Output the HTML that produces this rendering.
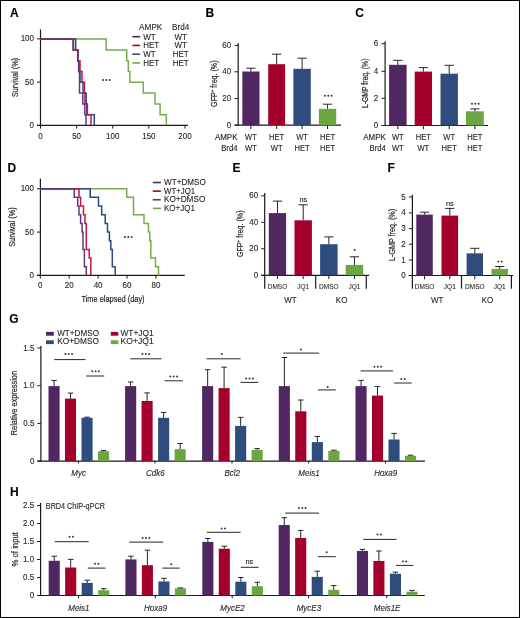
<!DOCTYPE html><html><head><meta charset="utf-8"><style>html,body{margin:0;padding:0;background:#fff;}svg{display:block;font-family:"Liberation Sans",sans-serif;will-change:transform;}text{stroke:#231f20;stroke-width:0.12px;}text.lt{stroke-width:0.08px;}text.vl{stroke-width:0.2px;}</style></head><body>
<svg width="520" height="618" viewBox="0 0 520 618">
<rect x="0" y="0" width="520" height="618" fill="#000"/>
<rect x="1" y="1" width="518" height="616" fill="#fff"/>
<text transform="translate(10.0,16.8) scale(1.0000,1)" font-size="12.00" font-weight="bold" fill="#000">A</text>
<text transform="translate(205.6,16.9) scale(1.0000,1)" font-size="12.00" font-weight="bold" fill="#000">B</text>
<text transform="translate(355.2,16.9) scale(1.0000,1)" font-size="12.00" font-weight="bold" fill="#000">C</text>
<text transform="translate(7.4,172.3) scale(1.0000,1)" font-size="12.00" font-weight="bold" fill="#000">D</text>
<text transform="translate(232.4,172.3) scale(1.0000,1)" font-size="12.00" font-weight="bold" fill="#000">E</text>
<text transform="translate(387.6,172.3) scale(1.0000,1)" font-size="12.00" font-weight="bold" fill="#000">F</text>
<text transform="translate(9.3,323.3) scale(1.0000,1)" font-size="12.00" font-weight="bold" fill="#000">G</text>
<text transform="translate(9.9,495.5) scale(1.0000,1)" font-size="12.00" font-weight="bold" fill="#000">H</text>
<line x1="40.5" y1="29.5" x2="40.5" y2="125.8" stroke="#1a1a1a" stroke-width="1.2"/>
<line x1="37.0" y1="125.3" x2="188.0" y2="125.3" stroke="#1a1a1a" stroke-width="1.2"/>
<line x1="37.0" y1="38.9" x2="40.5" y2="38.9" stroke="#1a1a1a" stroke-width="1.0"/>
<text transform="translate(34.0,41.40) scale(0.8333,1)" font-size="9.60" text-anchor="end" fill="#231f20">100</text>
<line x1="37.0" y1="82.1" x2="40.5" y2="82.1" stroke="#1a1a1a" stroke-width="1.0"/>
<text transform="translate(34.0,84.60) scale(0.8333,1)" font-size="9.60" text-anchor="end" fill="#231f20">50</text>
<line x1="37.0" y1="125.3" x2="40.5" y2="125.3" stroke="#1a1a1a" stroke-width="1.0"/>
<text transform="translate(34.0,127.80) scale(0.8333,1)" font-size="9.60" text-anchor="end" fill="#231f20">0</text>
<line x1="40.50" y1="125.3" x2="40.50" y2="128.6" stroke="#1a1a1a" stroke-width="1.0"/>
<text transform="translate(40.50,138.8) scale(0.8333,1)" font-size="9.60" text-anchor="middle" fill="#231f20">0</text>
<line x1="76.62" y1="125.3" x2="76.62" y2="128.6" stroke="#1a1a1a" stroke-width="1.0"/>
<text transform="translate(76.62,138.8) scale(0.8333,1)" font-size="9.60" text-anchor="middle" fill="#231f20">50</text>
<line x1="112.75" y1="125.3" x2="112.75" y2="128.6" stroke="#1a1a1a" stroke-width="1.0"/>
<text transform="translate(112.75,138.8) scale(0.8333,1)" font-size="9.60" text-anchor="middle" fill="#231f20">100</text>
<line x1="148.88" y1="125.3" x2="148.88" y2="128.6" stroke="#1a1a1a" stroke-width="1.0"/>
<text transform="translate(148.88,138.8) scale(0.8333,1)" font-size="9.60" text-anchor="middle" fill="#231f20">150</text>
<line x1="185.00" y1="125.3" x2="185.00" y2="128.6" stroke="#1a1a1a" stroke-width="1.0"/>
<text transform="translate(185.00,138.8) scale(0.8333,1)" font-size="9.60" text-anchor="middle" fill="#231f20">200</text>
<text transform="translate(18.2,77.5) rotate(-90) scale(0.8414,1)" x="0" y="0" font-size="8.6" text-anchor="middle" fill="#231f20" class="vl">Survival (%)</text>
<path d="M40.50,39.10 L106.10,39.10 L106.10,49.90 L126.70,49.90 L126.70,60.70 L128.30,60.70 L128.30,71.50 L129.90,71.50 L129.90,82.30 L143.30,82.30 L143.30,93.10 L155.00,93.10 L155.00,103.90 L160.10,103.90 L160.10,114.70 L166.30,114.70 L166.30,125.30" fill="none" stroke="#72ae4c" stroke-width="1.5" stroke-linejoin="miter"/>
<path d="M40.50,39.10 L75.70,39.10 L75.70,49.90 L77.70,49.90 L77.70,60.70 L79.00,60.70 L79.00,71.50 L80.00,71.50 L80.00,82.30 L83.00,82.30 L83.00,93.10 L86.20,93.10 L86.20,103.90 L86.80,103.90 L86.80,114.70 L94.30,114.70 L94.30,125.30" fill="none" stroke="#2a4a85" stroke-width="1.5" stroke-linejoin="miter"/>
<path d="M40.50,39.10 L73.50,39.10 L73.50,49.90 L78.00,49.90 L78.00,60.70 L80.00,60.70 L80.00,71.50 L82.00,71.50 L82.00,82.30 L84.40,82.30 L84.40,93.10 L85.00,93.10 L85.00,103.90 L87.40,103.90 L87.40,114.70 L91.00,114.70 L91.00,125.30" fill="none" stroke="#c0163f" stroke-width="1.5" stroke-linejoin="miter"/>
<path d="M40.50,39.10 L73.00,39.10 L73.00,49.90 L77.70,49.90 L77.70,60.70 L78.60,60.70 L78.60,71.50 L79.50,71.50 L79.50,93.10 L82.80,93.10 L82.80,103.90 L84.80,103.90 L84.80,114.70 L86.00,114.70 L86.00,125.30" fill="none" stroke="#5e3a7c" stroke-width="1.5" stroke-linejoin="miter"/>
<circle cx="102.95" cy="80.10" r="1.0" fill="#383838"/>
<circle cx="106.30" cy="80.10" r="1.0" fill="#383838"/>
<circle cx="109.65" cy="80.10" r="1.0" fill="#383838"/>
<text transform="translate(150.7,29.8) scale(0.8564,1)" font-size="9.60" text-anchor="middle" fill="#231f20">AMPK</text>
<text transform="translate(180.7,29.8) scale(0.8482,1)" font-size="9.60" text-anchor="middle" fill="#231f20">Brd4</text>
<line x1="132.4" y1="36.7" x2="140.1" y2="36.7" stroke="#512761" stroke-width="1.6"/>
<text transform="translate(143.2,39.50) scale(0.8333,1)" font-size="9.60" fill="#231f20">WT</text>
<text transform="translate(180.7,39.50) scale(0.8333,1)" font-size="9.60" text-anchor="middle" fill="#231f20">WT</text>
<line x1="132.4" y1="45.45" x2="140.1" y2="45.45" stroke="#a3002b" stroke-width="1.6"/>
<text transform="translate(143.2,48.25) scale(0.8333,1)" font-size="9.60" fill="#231f20">HET</text>
<text transform="translate(180.7,48.25) scale(0.8333,1)" font-size="9.60" text-anchor="middle" fill="#231f20">WT</text>
<line x1="132.4" y1="54.2" x2="140.1" y2="54.2" stroke="#2e4c7c" stroke-width="1.6"/>
<text transform="translate(143.2,57.00) scale(0.8333,1)" font-size="9.60" fill="#231f20">WT</text>
<text transform="translate(180.7,57.00) scale(0.8333,1)" font-size="9.60" text-anchor="middle" fill="#231f20">HET</text>
<line x1="132.4" y1="62.95" x2="140.1" y2="62.95" stroke="#6ca643" stroke-width="1.6"/>
<text transform="translate(143.2,65.75) scale(0.8333,1)" font-size="9.60" fill="#231f20">HET</text>
<text transform="translate(180.7,65.75) scale(0.8333,1)" font-size="9.60" text-anchor="middle" fill="#231f20">HET</text>
<line x1="238.2" y1="43.0" x2="238.2" y2="125.7" stroke="#1a1a1a" stroke-width="1.2"/>
<line x1="234.6" y1="125.2" x2="341.0" y2="125.2" stroke="#1a1a1a" stroke-width="1.2"/>
<line x1="234.6" y1="45.4" x2="238.2" y2="45.4" stroke="#1a1a1a" stroke-width="1.0"/>
<text transform="translate(231.2,47.90) scale(0.8333,1)" font-size="9.60" text-anchor="end" fill="#231f20">60</text>
<line x1="234.6" y1="71.8" x2="238.2" y2="71.8" stroke="#1a1a1a" stroke-width="1.0"/>
<text transform="translate(231.2,74.30) scale(0.8333,1)" font-size="9.60" text-anchor="end" fill="#231f20">40</text>
<line x1="234.6" y1="98.6" x2="238.2" y2="98.6" stroke="#1a1a1a" stroke-width="1.0"/>
<text transform="translate(231.2,101.10) scale(0.8333,1)" font-size="9.60" text-anchor="end" fill="#231f20">20</text>
<line x1="234.6" y1="125.2" x2="238.2" y2="125.2" stroke="#1a1a1a" stroke-width="1.0"/>
<text transform="translate(231.2,127.70) scale(0.8333,1)" font-size="9.60" text-anchor="end" fill="#231f20">0</text>
<rect x="242.30" y="71.50" width="17.20" height="53.70" fill="#512761"/>
<line x1="250.9" y1="68.2" x2="250.9" y2="71.5" stroke="#262626" stroke-width="1.0"/>
<line x1="246.3" y1="68.2" x2="255.5" y2="68.2" stroke="#262626" stroke-width="1.0"/>
<line x1="250.90" y1="125.2" x2="250.90" y2="129.0" stroke="#1a1a1a" stroke-width="1.0"/>
<rect x="268.20" y="64.20" width="16.90" height="61.00" fill="#a3002b"/>
<line x1="276.65" y1="54.2" x2="276.65" y2="64.2" stroke="#262626" stroke-width="1.0"/>
<line x1="272.04999999999995" y1="54.2" x2="281.25" y2="54.2" stroke="#262626" stroke-width="1.0"/>
<line x1="276.65" y1="125.2" x2="276.65" y2="129.0" stroke="#1a1a1a" stroke-width="1.0"/>
<rect x="293.40" y="68.80" width="17.40" height="56.40" fill="#2e4c7c"/>
<line x1="302.1" y1="58.2" x2="302.1" y2="68.8" stroke="#262626" stroke-width="1.0"/>
<line x1="297.5" y1="58.2" x2="306.70000000000005" y2="58.2" stroke="#262626" stroke-width="1.0"/>
<line x1="302.10" y1="125.2" x2="302.10" y2="129.0" stroke="#1a1a1a" stroke-width="1.0"/>
<rect x="318.90" y="108.80" width="17.30" height="16.40" fill="#6ca643"/>
<line x1="327.54999999999995" y1="104.2" x2="327.54999999999995" y2="108.8" stroke="#262626" stroke-width="1.0"/>
<line x1="322.94999999999993" y1="104.2" x2="332.15" y2="104.2" stroke="#262626" stroke-width="1.0"/>
<line x1="327.55" y1="125.2" x2="327.55" y2="129.0" stroke="#1a1a1a" stroke-width="1.0"/>
<text transform="translate(216.8,83.7) rotate(-90) scale(0.8249,1)" x="0" y="0" font-size="8.6" text-anchor="middle" fill="#231f20" class="vl">GFP<tspan font-size="5.5" dy="-3">+</tspan><tspan dy="3"> freq. (%)</tspan></text>
<circle cx="324.95" cy="95.80" r="1.0" fill="#383838"/>
<circle cx="328.30" cy="95.80" r="1.0" fill="#383838"/>
<circle cx="331.65" cy="95.80" r="1.0" fill="#383838"/>
<text transform="translate(237.5,139.5) scale(0.9294,1)" font-size="8.58" text-anchor="end" fill="#231f20">AMPK</text>
<text transform="translate(237.5,151.2) scale(0.8994,1)" font-size="8.58" text-anchor="end" fill="#231f20">Brd4</text>
<text transform="translate(250.90,139.5) scale(0.9091,1)" font-size="8.36" text-anchor="middle" fill="#231f20">WT</text>
<text transform="translate(250.90,151.2) scale(0.9091,1)" font-size="8.36" text-anchor="middle" fill="#231f20">WT</text>
<text transform="translate(276.65,139.5) scale(0.9091,1)" font-size="8.36" text-anchor="middle" fill="#231f20">HET</text>
<text transform="translate(276.65,151.2) scale(0.9091,1)" font-size="8.36" text-anchor="middle" fill="#231f20">WT</text>
<text transform="translate(302.10,139.5) scale(0.9091,1)" font-size="8.36" text-anchor="middle" fill="#231f20">WT</text>
<text transform="translate(302.10,151.2) scale(0.9091,1)" font-size="8.36" text-anchor="middle" fill="#231f20">HET</text>
<text transform="translate(327.55,139.5) scale(0.9091,1)" font-size="8.36" text-anchor="middle" fill="#231f20">HET</text>
<text transform="translate(327.55,151.2) scale(0.9091,1)" font-size="8.36" text-anchor="middle" fill="#231f20">HET</text>
<line x1="385.1" y1="41.3" x2="385.1" y2="126.0" stroke="#1a1a1a" stroke-width="1.2"/>
<line x1="381.5" y1="125.5" x2="488.0" y2="125.5" stroke="#1a1a1a" stroke-width="1.2"/>
<line x1="381.5" y1="43.8" x2="385.1" y2="43.8" stroke="#1a1a1a" stroke-width="1.0"/>
<text transform="translate(378.2,46.30) scale(0.8333,1)" font-size="9.60" text-anchor="end" fill="#231f20">6</text>
<line x1="381.5" y1="71.3" x2="385.1" y2="71.3" stroke="#1a1a1a" stroke-width="1.0"/>
<text transform="translate(378.2,73.80) scale(0.8333,1)" font-size="9.60" text-anchor="end" fill="#231f20">4</text>
<line x1="381.5" y1="98.3" x2="385.1" y2="98.3" stroke="#1a1a1a" stroke-width="1.0"/>
<text transform="translate(378.2,100.80) scale(0.8333,1)" font-size="9.60" text-anchor="end" fill="#231f20">2</text>
<line x1="381.5" y1="125.5" x2="385.1" y2="125.5" stroke="#1a1a1a" stroke-width="1.0"/>
<text transform="translate(378.2,128.00) scale(0.8333,1)" font-size="9.60" text-anchor="end" fill="#231f20">0</text>
<rect x="389.10" y="64.80" width="17.50" height="60.70" fill="#512761"/>
<line x1="397.85" y1="60.3" x2="397.85" y2="64.8" stroke="#262626" stroke-width="1.0"/>
<line x1="393.25" y1="60.3" x2="402.45000000000005" y2="60.3" stroke="#262626" stroke-width="1.0"/>
<line x1="397.85" y1="125.5" x2="397.85" y2="129.3" stroke="#1a1a1a" stroke-width="1.0"/>
<rect x="414.70" y="71.60" width="17.30" height="53.90" fill="#a3002b"/>
<line x1="423.35" y1="67.6" x2="423.35" y2="71.6" stroke="#262626" stroke-width="1.0"/>
<line x1="418.75" y1="67.6" x2="427.95000000000005" y2="67.6" stroke="#262626" stroke-width="1.0"/>
<line x1="423.35" y1="125.5" x2="423.35" y2="129.3" stroke="#1a1a1a" stroke-width="1.0"/>
<rect x="440.50" y="73.70" width="17.40" height="51.80" fill="#2e4c7c"/>
<line x1="449.2" y1="65.3" x2="449.2" y2="73.7" stroke="#262626" stroke-width="1.0"/>
<line x1="444.59999999999997" y1="65.3" x2="453.8" y2="65.3" stroke="#262626" stroke-width="1.0"/>
<line x1="449.20" y1="125.5" x2="449.20" y2="129.3" stroke="#1a1a1a" stroke-width="1.0"/>
<rect x="466.00" y="111.30" width="17.80" height="14.20" fill="#6ca643"/>
<line x1="474.9" y1="108.9" x2="474.9" y2="111.3" stroke="#262626" stroke-width="1.0"/>
<line x1="470.29999999999995" y1="108.9" x2="479.5" y2="108.9" stroke="#262626" stroke-width="1.0"/>
<line x1="474.90" y1="125.5" x2="474.90" y2="129.3" stroke="#1a1a1a" stroke-width="1.0"/>
<text transform="translate(368.3,83.3) rotate(-90) scale(0.7927,1)" x="0" y="0" font-size="8.6" text-anchor="middle" fill="#231f20" class="vl">L-GMP freq. (%)</text>
<circle cx="471.95" cy="103.70" r="1.0" fill="#383838"/>
<circle cx="475.30" cy="103.70" r="1.0" fill="#383838"/>
<circle cx="478.65" cy="103.70" r="1.0" fill="#383838"/>
<text transform="translate(385.8,139.5) scale(0.9294,1)" font-size="8.58" text-anchor="end" fill="#231f20">AMPK</text>
<text transform="translate(385.8,150.9) scale(0.8994,1)" font-size="8.58" text-anchor="end" fill="#231f20">Brd4</text>
<text transform="translate(397.85,139.5) scale(0.9091,1)" font-size="8.36" text-anchor="middle" fill="#231f20">WT</text>
<text transform="translate(397.85,150.9) scale(0.9091,1)" font-size="8.36" text-anchor="middle" fill="#231f20">WT</text>
<text transform="translate(423.35,139.5) scale(0.9091,1)" font-size="8.36" text-anchor="middle" fill="#231f20">HET</text>
<text transform="translate(423.35,150.9) scale(0.9091,1)" font-size="8.36" text-anchor="middle" fill="#231f20">WT</text>
<text transform="translate(449.20,139.5) scale(0.9091,1)" font-size="8.36" text-anchor="middle" fill="#231f20">WT</text>
<text transform="translate(449.20,150.9) scale(0.9091,1)" font-size="8.36" text-anchor="middle" fill="#231f20">HET</text>
<text transform="translate(474.90,139.5) scale(0.9091,1)" font-size="8.36" text-anchor="middle" fill="#231f20">HET</text>
<text transform="translate(474.90,150.9) scale(0.9091,1)" font-size="8.36" text-anchor="middle" fill="#231f20">HET</text>
<line x1="40.4" y1="178.7" x2="40.4" y2="275.9" stroke="#1a1a1a" stroke-width="1.2"/>
<line x1="37.0" y1="275.4" x2="184.8" y2="275.4" stroke="#1a1a1a" stroke-width="1.2"/>
<line x1="37.0" y1="188.8" x2="40.4" y2="188.8" stroke="#1a1a1a" stroke-width="1.0"/>
<text transform="translate(34.0,191.30) scale(0.8333,1)" font-size="9.60" text-anchor="end" fill="#231f20">100</text>
<line x1="37.0" y1="232.1" x2="40.4" y2="232.1" stroke="#1a1a1a" stroke-width="1.0"/>
<text transform="translate(34.0,234.60) scale(0.8333,1)" font-size="9.60" text-anchor="end" fill="#231f20">50</text>
<line x1="37.0" y1="275.4" x2="40.4" y2="275.4" stroke="#1a1a1a" stroke-width="1.0"/>
<text transform="translate(34.0,277.90) scale(0.8333,1)" font-size="9.60" text-anchor="end" fill="#231f20">0</text>
<line x1="40.30" y1="275.4" x2="40.30" y2="278.6" stroke="#1a1a1a" stroke-width="1.0"/>
<text transform="translate(40.30,288.2) scale(0.8333,1)" font-size="9.60" text-anchor="middle" fill="#231f20">0</text>
<line x1="69.20" y1="275.4" x2="69.20" y2="278.6" stroke="#1a1a1a" stroke-width="1.0"/>
<text transform="translate(69.20,288.2) scale(0.8333,1)" font-size="9.60" text-anchor="middle" fill="#231f20">20</text>
<line x1="98.10" y1="275.4" x2="98.10" y2="278.6" stroke="#1a1a1a" stroke-width="1.0"/>
<text transform="translate(98.10,288.2) scale(0.8333,1)" font-size="9.60" text-anchor="middle" fill="#231f20">40</text>
<line x1="127.00" y1="275.4" x2="127.00" y2="278.6" stroke="#1a1a1a" stroke-width="1.0"/>
<text transform="translate(127.00,288.2) scale(0.8333,1)" font-size="9.60" text-anchor="middle" fill="#231f20">60</text>
<line x1="155.90" y1="275.4" x2="155.90" y2="278.6" stroke="#1a1a1a" stroke-width="1.0"/>
<text transform="translate(155.90,288.2) scale(0.8333,1)" font-size="9.60" text-anchor="middle" fill="#231f20">80</text>
<text transform="translate(15.4,227.1) rotate(-90) scale(0.8522,1)" x="0" y="0" font-size="8.6" text-anchor="middle" fill="#231f20" class="vl">Survival (%)</text>
<text transform="translate(113.0,302.3) scale(0.8524,1)" font-size="8.70" text-anchor="middle" fill="#231f20" class="vl">Time elapsed (day)</text>
<path d="M40.40,188.70 L126.70,188.70 L126.70,197.37 L133.50,197.37 L133.50,214.71 L144.00,214.71 L144.00,223.38 L148.50,223.38 L148.50,232.05 L149.80,232.05 L149.80,240.72 L150.80,240.72 L150.80,258.06 L155.50,258.06 L155.50,266.73 L158.50,266.73 L158.50,275.40" fill="none" stroke="#72ae4c" stroke-width="1.5"/>
<path d="M40.40,188.70 L90.20,188.70 L90.20,197.37 L98.50,197.37 L98.50,206.04 L101.70,206.04 L101.70,214.71 L105.20,214.71 L105.20,223.38 L107.50,223.38 L107.50,232.05 L109.40,232.05 L109.40,240.72 L110.80,240.72 L110.80,249.39 L112.30,249.39 L112.30,266.73 L115.20,266.73 L115.20,275.40" fill="none" stroke="#2a4a85" stroke-width="1.5"/>
<path d="M40.40,188.70 L79.00,188.70 L79.00,197.37 L80.60,197.37 L80.60,206.04 L83.50,206.04 L83.50,214.71 L85.00,214.71 L85.00,223.38 L86.30,223.38 L86.30,249.39 L89.20,249.39 L89.20,258.06 L90.80,258.06 L90.80,275.40" fill="none" stroke="#c0163f" stroke-width="1.5"/>
<path d="M40.40,188.70 L74.20,188.70 L74.20,197.37 L77.70,197.37 L77.70,206.04 L79.00,206.04 L79.00,214.71 L80.60,214.71 L80.60,223.38 L82.10,223.38 L82.10,232.05 L83.00,232.05 L83.00,249.39 L84.40,249.39 L84.40,266.73 L86.30,266.73 L86.30,275.40" fill="none" stroke="#5e3a7c" stroke-width="1.5"/>
<circle cx="124.95" cy="237.10" r="1.0" fill="#383838"/>
<circle cx="128.30" cy="237.10" r="1.0" fill="#383838"/>
<circle cx="131.65" cy="237.10" r="1.0" fill="#383838"/>
<line x1="152.8" y1="182.5" x2="160.9" y2="182.5" stroke="#512761" stroke-width="1.6"/>
<text transform="translate(164.0,185.20) scale(0.8494,1)" font-size="9.60" fill="#231f20">WT+DMSO</text>
<line x1="152.8" y1="191.13" x2="160.9" y2="191.13" stroke="#a3002b" stroke-width="1.6"/>
<text transform="translate(164.0,193.83) scale(0.8155,1)" font-size="9.60" fill="#231f20">WT+JQ1</text>
<line x1="152.8" y1="199.76" x2="160.9" y2="199.76" stroke="#2e4c7c" stroke-width="1.6"/>
<text transform="translate(164.0,202.46) scale(0.8576,1)" font-size="9.60" fill="#231f20">KO+DMSO</text>
<line x1="152.8" y1="208.39" x2="160.9" y2="208.39" stroke="#6ca643" stroke-width="1.6"/>
<text transform="translate(164.0,211.09) scale(0.8333,1)" font-size="9.60" fill="#231f20">KO+JQ1</text>
<line x1="264.7" y1="193.1" x2="264.7" y2="288.8" stroke="#1a1a1a" stroke-width="1.2"/>
<line x1="261.2" y1="275.3" x2="369.2" y2="275.3" stroke="#1a1a1a" stroke-width="1.2"/>
<line x1="261.2" y1="195.8" x2="264.7" y2="195.8" stroke="#1a1a1a" stroke-width="1.0"/>
<text transform="translate(258.2,198.30) scale(0.8333,1)" font-size="9.60" text-anchor="end" fill="#231f20">60</text>
<line x1="261.2" y1="222.3" x2="264.7" y2="222.3" stroke="#1a1a1a" stroke-width="1.0"/>
<text transform="translate(258.2,224.80) scale(0.8333,1)" font-size="9.60" text-anchor="end" fill="#231f20">40</text>
<line x1="261.2" y1="248.8" x2="264.7" y2="248.8" stroke="#1a1a1a" stroke-width="1.0"/>
<text transform="translate(258.2,251.30) scale(0.8333,1)" font-size="9.60" text-anchor="end" fill="#231f20">20</text>
<line x1="261.2" y1="275.3" x2="264.7" y2="275.3" stroke="#1a1a1a" stroke-width="1.0"/>
<text transform="translate(258.2,277.80) scale(0.8333,1)" font-size="9.60" text-anchor="end" fill="#231f20">0</text>
<rect x="268.80" y="213.10" width="17.30" height="62.20" fill="#512761"/>
<line x1="277.45000000000005" y1="201.1" x2="277.45000000000005" y2="213.1" stroke="#262626" stroke-width="1.0"/>
<line x1="272.85" y1="201.1" x2="282.05000000000007" y2="201.1" stroke="#262626" stroke-width="1.0"/>
<line x1="277.45" y1="275.3" x2="277.45" y2="279.1" stroke="#1a1a1a" stroke-width="1.0"/>
<rect x="294.50" y="220.30" width="17.40" height="55.00" fill="#a3002b"/>
<line x1="303.2" y1="204.8" x2="303.2" y2="220.3" stroke="#262626" stroke-width="1.0"/>
<line x1="298.59999999999997" y1="204.8" x2="307.8" y2="204.8" stroke="#262626" stroke-width="1.0"/>
<line x1="303.20" y1="275.3" x2="303.20" y2="279.1" stroke="#1a1a1a" stroke-width="1.0"/>
<rect x="320.10" y="244.20" width="17.50" height="31.10" fill="#2e4c7c"/>
<line x1="328.85" y1="236.9" x2="328.85" y2="244.2" stroke="#262626" stroke-width="1.0"/>
<line x1="324.25" y1="236.9" x2="333.45000000000005" y2="236.9" stroke="#262626" stroke-width="1.0"/>
<line x1="328.85" y1="275.3" x2="328.85" y2="279.1" stroke="#1a1a1a" stroke-width="1.0"/>
<rect x="345.70" y="264.90" width="17.50" height="10.40" fill="#6ca643"/>
<line x1="354.45" y1="256.8" x2="354.45" y2="264.9" stroke="#262626" stroke-width="1.0"/>
<line x1="349.84999999999997" y1="256.8" x2="359.05" y2="256.8" stroke="#262626" stroke-width="1.0"/>
<line x1="354.45" y1="275.3" x2="354.45" y2="279.1" stroke="#1a1a1a" stroke-width="1.0"/>
<line x1="315.7" y1="275.3" x2="315.7" y2="288.8" stroke="#1a1a1a" stroke-width="1.2"/>
<line x1="366.3" y1="275.3" x2="366.3" y2="288.8" stroke="#1a1a1a" stroke-width="1.2"/>
<text transform="translate(277.45,289.10) scale(1.0000,1)" font-size="6.50" text-anchor="middle" fill="#231f20" class="lt">DMSO</text>
<text transform="translate(303.20,289.10) scale(1.0000,1)" font-size="6.50" text-anchor="middle" fill="#231f20" class="lt">JQ1</text>
<text transform="translate(328.85,289.10) scale(1.0000,1)" font-size="6.50" text-anchor="middle" fill="#231f20" class="lt">DMSO</text>
<text transform="translate(354.45,289.10) scale(1.0000,1)" font-size="6.50" text-anchor="middle" fill="#231f20" class="lt">JQ1</text>
<text transform="translate(290.40,302.60) scale(0.8333,1)" font-size="9.60" text-anchor="middle" fill="#231f20">WT</text>
<text transform="translate(341.60,302.60) scale(0.8333,1)" font-size="9.60" text-anchor="middle" fill="#231f20">KO</text>
<text transform="translate(242.8,233.8) rotate(-90) scale(0.8302,1)" x="0" y="0" font-size="8.6" text-anchor="middle" fill="#231f20" class="vl">GFP<tspan font-size="5.5" dy="-3">+</tspan><tspan dy="3"> freq. (%)</tspan></text>
<text transform="translate(303.40,201.72) scale(1.0000,1)" font-size="7.40" text-anchor="middle" fill="#231f20">ns</text>
<circle cx="354.60" cy="249.90" r="1.0" fill="#383838"/>
<line x1="412.4" y1="194.7" x2="412.4" y2="288.7" stroke="#1a1a1a" stroke-width="1.2"/>
<line x1="408.6" y1="275.5" x2="513.2" y2="275.5" stroke="#1a1a1a" stroke-width="1.2"/>
<line x1="408.9" y1="197.0" x2="412.4" y2="197.0" stroke="#1a1a1a" stroke-width="1.0"/>
<text transform="translate(405.6,199.50) scale(0.8333,1)" font-size="9.60" text-anchor="end" fill="#231f20">5</text>
<line x1="408.9" y1="212.9" x2="412.4" y2="212.9" stroke="#1a1a1a" stroke-width="1.0"/>
<text transform="translate(405.6,215.40) scale(0.8333,1)" font-size="9.60" text-anchor="end" fill="#231f20">4</text>
<line x1="408.9" y1="228.6" x2="412.4" y2="228.6" stroke="#1a1a1a" stroke-width="1.0"/>
<text transform="translate(405.6,231.10) scale(0.8333,1)" font-size="9.60" text-anchor="end" fill="#231f20">3</text>
<line x1="408.9" y1="244.2" x2="412.4" y2="244.2" stroke="#1a1a1a" stroke-width="1.0"/>
<text transform="translate(405.6,246.70) scale(0.8333,1)" font-size="9.60" text-anchor="end" fill="#231f20">2</text>
<line x1="408.9" y1="260.0" x2="412.4" y2="260.0" stroke="#1a1a1a" stroke-width="1.0"/>
<text transform="translate(405.6,262.50) scale(0.8333,1)" font-size="9.60" text-anchor="end" fill="#231f20">1</text>
<line x1="408.9" y1="275.5" x2="412.4" y2="275.5" stroke="#1a1a1a" stroke-width="1.0"/>
<text transform="translate(405.6,278.00) scale(0.8333,1)" font-size="9.60" text-anchor="end" fill="#231f20">0</text>
<rect x="416.30" y="214.60" width="16.50" height="60.90" fill="#512761"/>
<line x1="424.55" y1="212.2" x2="424.55" y2="214.6" stroke="#262626" stroke-width="1.0"/>
<line x1="419.95" y1="212.2" x2="429.15000000000003" y2="212.2" stroke="#262626" stroke-width="1.0"/>
<line x1="424.55" y1="275.5" x2="424.55" y2="279.3" stroke="#1a1a1a" stroke-width="1.0"/>
<rect x="441.50" y="215.60" width="16.60" height="59.90" fill="#a3002b"/>
<line x1="449.8" y1="208.4" x2="449.8" y2="215.6" stroke="#262626" stroke-width="1.0"/>
<line x1="445.2" y1="208.4" x2="454.40000000000003" y2="208.4" stroke="#262626" stroke-width="1.0"/>
<line x1="449.80" y1="275.5" x2="449.80" y2="279.3" stroke="#1a1a1a" stroke-width="1.0"/>
<rect x="466.60" y="253.30" width="16.40" height="22.20" fill="#2e4c7c"/>
<line x1="474.8" y1="248.3" x2="474.8" y2="253.3" stroke="#262626" stroke-width="1.0"/>
<line x1="470.2" y1="248.3" x2="479.40000000000003" y2="248.3" stroke="#262626" stroke-width="1.0"/>
<line x1="474.80" y1="275.5" x2="474.80" y2="279.3" stroke="#1a1a1a" stroke-width="1.0"/>
<rect x="491.50" y="268.90" width="16.50" height="6.60" fill="#6ca643"/>
<line x1="499.75" y1="266.5" x2="499.75" y2="268.9" stroke="#262626" stroke-width="1.0"/>
<line x1="495.15" y1="266.5" x2="504.35" y2="266.5" stroke="#262626" stroke-width="1.0"/>
<line x1="499.75" y1="275.5" x2="499.75" y2="279.3" stroke="#1a1a1a" stroke-width="1.0"/>
<line x1="461.5" y1="275.5" x2="461.5" y2="288.7" stroke="#1a1a1a" stroke-width="1.2"/>
<line x1="511.4" y1="275.5" x2="511.4" y2="288.7" stroke="#1a1a1a" stroke-width="1.2"/>
<text transform="translate(424.55,289.00) scale(1.0000,1)" font-size="6.50" text-anchor="middle" fill="#231f20" class="lt">DMSO</text>
<text transform="translate(449.80,289.00) scale(1.0000,1)" font-size="6.50" text-anchor="middle" fill="#231f20" class="lt">JQ1</text>
<text transform="translate(474.80,289.00) scale(1.0000,1)" font-size="6.50" text-anchor="middle" fill="#231f20" class="lt">DMSO</text>
<text transform="translate(499.75,289.00) scale(1.0000,1)" font-size="6.50" text-anchor="middle" fill="#231f20" class="lt">JQ1</text>
<text transform="translate(437.20,302.50) scale(0.8333,1)" font-size="9.60" text-anchor="middle" fill="#231f20">WT</text>
<text transform="translate(487.50,302.50) scale(0.8333,1)" font-size="9.60" text-anchor="middle" fill="#231f20">KO</text>
<text transform="translate(394.8,234.9) rotate(-90) scale(0.8360,1)" x="0" y="0" font-size="8.6" text-anchor="middle" fill="#231f20" class="vl">L-GMP freq. (%)</text>
<text transform="translate(449.90,205.52) scale(1.0000,1)" font-size="7.40" text-anchor="middle" fill="#231f20">ns</text>
<circle cx="498.43" cy="261.50" r="1.0" fill="#383838"/>
<circle cx="501.78" cy="261.50" r="1.0" fill="#383838"/>
<rect x="46.00" y="331.90" width="7.80" height="3.80" fill="#512761"/>
<text transform="translate(57.2,336.00) scale(0.8473,1)" font-size="9.60" fill="#231f20">WT+DMSO</text>
<rect x="46.00" y="340.30" width="7.80" height="3.80" fill="#2e4c7c"/>
<text transform="translate(57.2,344.40) scale(0.8658,1)" font-size="9.60" fill="#231f20">KO+DMSO</text>
<rect x="110.80" y="331.90" width="7.50" height="3.80" fill="#a3002b"/>
<text transform="translate(120.5,336.00) scale(0.8705,1)" font-size="9.60" fill="#231f20">WT+JQ1</text>
<rect x="110.80" y="340.30" width="7.50" height="3.80" fill="#6ca643"/>
<text transform="translate(120.5,344.40) scale(0.8953,1)" font-size="9.60" fill="#231f20">KO+JQ1</text>
<line x1="40.9" y1="345.9" x2="40.9" y2="461.6" stroke="#1a1a1a" stroke-width="1.2"/>
<line x1="37.4" y1="461.1" x2="424.9" y2="461.1" stroke="#1a1a1a" stroke-width="1.2"/>
<line x1="37.4" y1="348.00" x2="40.9" y2="348.00" stroke="#1a1a1a" stroke-width="1.0"/>
<text transform="translate(34.4,350.50) scale(0.8333,1)" font-size="9.60" text-anchor="end" fill="#231f20">1.5</text>
<line x1="37.4" y1="385.70" x2="40.9" y2="385.70" stroke="#1a1a1a" stroke-width="1.0"/>
<text transform="translate(34.4,388.20) scale(0.8333,1)" font-size="9.60" text-anchor="end" fill="#231f20">1.0</text>
<line x1="37.4" y1="423.40" x2="40.9" y2="423.40" stroke="#1a1a1a" stroke-width="1.0"/>
<text transform="translate(34.4,425.90) scale(0.8333,1)" font-size="9.60" text-anchor="end" fill="#231f20">0.5</text>
<line x1="37.4" y1="461.10" x2="40.9" y2="461.10" stroke="#1a1a1a" stroke-width="1.0"/>
<text transform="translate(34.4,463.60) scale(0.8333,1)" font-size="9.60" text-anchor="end" fill="#231f20">0</text>
<text transform="translate(17.3,403.1) rotate(-90) scale(0.8581,1)" x="0" y="0" font-size="8.6" text-anchor="middle" fill="#231f20" class="vl">Relative expression</text>
<rect x="48.50" y="386.10" width="11.10" height="75.00" fill="#512761"/>
<line x1="54.05" y1="380.4" x2="54.05" y2="386.1" stroke="#262626" stroke-width="1.0"/>
<line x1="51.3" y1="380.4" x2="56.8" y2="380.4" stroke="#262626" stroke-width="1.0"/>
<rect x="64.95" y="398.60" width="11.10" height="62.50" fill="#a3002b"/>
<line x1="70.5" y1="393.1" x2="70.5" y2="398.6" stroke="#262626" stroke-width="1.0"/>
<line x1="67.75" y1="393.1" x2="73.25" y2="393.1" stroke="#262626" stroke-width="1.0"/>
<rect x="81.50" y="417.80" width="11.10" height="43.30" fill="#2e4c7c"/>
<line x1="87.05" y1="417.2" x2="87.05" y2="417.8" stroke="#262626" stroke-width="1.0"/>
<line x1="84.3" y1="417.2" x2="89.8" y2="417.2" stroke="#262626" stroke-width="1.0"/>
<rect x="98.00" y="451.20" width="11.10" height="9.90" fill="#6ca643"/>
<line x1="103.55" y1="450.6" x2="103.55" y2="451.2" stroke="#262626" stroke-width="1.0"/>
<line x1="100.8" y1="450.6" x2="106.3" y2="450.6" stroke="#262626" stroke-width="1.0"/>
<line x1="78.40" y1="461.1" x2="78.40" y2="463.6" stroke="#1a1a1a" stroke-width="1.0"/>
<text transform="translate(78.70,476.0) scale(0.8333,1)" font-size="9.60" text-anchor="middle" font-style="italic" fill="#231f20">Myc</text>
<line x1="54.2" y1="359.6" x2="85.5" y2="359.6" stroke="#262626" stroke-width="1.0"/>
<circle cx="65.35" cy="354.10" r="1.0" fill="#383838"/>
<circle cx="68.70" cy="354.10" r="1.0" fill="#383838"/>
<circle cx="72.05" cy="354.10" r="1.0" fill="#383838"/>
<line x1="86.1" y1="376.0" x2="104.3" y2="376.0" stroke="#262626" stroke-width="1.0"/>
<circle cx="92.25" cy="371.30" r="1.0" fill="#383838"/>
<circle cx="95.60" cy="371.30" r="1.0" fill="#383838"/>
<circle cx="98.95" cy="371.30" r="1.0" fill="#383838"/>
<rect x="125.10" y="386.10" width="11.10" height="75.00" fill="#512761"/>
<line x1="130.64999999999998" y1="382.0" x2="130.64999999999998" y2="386.1" stroke="#262626" stroke-width="1.0"/>
<line x1="127.89999999999998" y1="382.0" x2="133.39999999999998" y2="382.0" stroke="#262626" stroke-width="1.0"/>
<rect x="141.55" y="401.00" width="11.10" height="60.10" fill="#a3002b"/>
<line x1="147.09999999999997" y1="392.9" x2="147.09999999999997" y2="401.0" stroke="#262626" stroke-width="1.0"/>
<line x1="144.34999999999997" y1="392.9" x2="149.84999999999997" y2="392.9" stroke="#262626" stroke-width="1.0"/>
<rect x="158.10" y="417.80" width="11.10" height="43.30" fill="#2e4c7c"/>
<line x1="163.64999999999998" y1="412.4" x2="163.64999999999998" y2="417.8" stroke="#262626" stroke-width="1.0"/>
<line x1="160.89999999999998" y1="412.4" x2="166.39999999999998" y2="412.4" stroke="#262626" stroke-width="1.0"/>
<rect x="174.60" y="449.20" width="11.10" height="11.90" fill="#6ca643"/>
<line x1="180.14999999999998" y1="443.5" x2="180.14999999999998" y2="449.2" stroke="#262626" stroke-width="1.0"/>
<line x1="177.39999999999998" y1="443.5" x2="182.89999999999998" y2="443.5" stroke="#262626" stroke-width="1.0"/>
<line x1="155.00" y1="461.1" x2="155.00" y2="463.6" stroke="#1a1a1a" stroke-width="1.0"/>
<text transform="translate(155.30,476.0) scale(0.8333,1)" font-size="9.60" text-anchor="middle" font-style="italic" fill="#231f20">Cdk6</text>
<line x1="130.2" y1="358.8" x2="161.5" y2="358.8" stroke="#262626" stroke-width="1.0"/>
<circle cx="142.45" cy="354.10" r="1.0" fill="#383838"/>
<circle cx="145.80" cy="354.10" r="1.0" fill="#383838"/>
<circle cx="149.15" cy="354.10" r="1.0" fill="#383838"/>
<line x1="164.6" y1="380.8" x2="182.8" y2="380.8" stroke="#262626" stroke-width="1.0"/>
<circle cx="170.35" cy="376.40" r="1.0" fill="#383838"/>
<circle cx="173.70" cy="376.40" r="1.0" fill="#383838"/>
<circle cx="177.05" cy="376.40" r="1.0" fill="#383838"/>
<rect x="202.10" y="386.10" width="11.10" height="75.00" fill="#512761"/>
<line x1="207.64999999999998" y1="369.7" x2="207.64999999999998" y2="386.1" stroke="#262626" stroke-width="1.0"/>
<line x1="204.89999999999998" y1="369.7" x2="210.39999999999998" y2="369.7" stroke="#262626" stroke-width="1.0"/>
<rect x="218.55" y="388.10" width="11.10" height="73.00" fill="#a3002b"/>
<line x1="224.09999999999997" y1="367.2" x2="224.09999999999997" y2="388.1" stroke="#262626" stroke-width="1.0"/>
<line x1="221.34999999999997" y1="367.2" x2="226.84999999999997" y2="367.2" stroke="#262626" stroke-width="1.0"/>
<rect x="235.10" y="425.90" width="11.10" height="35.20" fill="#2e4c7c"/>
<line x1="240.64999999999998" y1="417.4" x2="240.64999999999998" y2="425.9" stroke="#262626" stroke-width="1.0"/>
<line x1="237.89999999999998" y1="417.4" x2="243.39999999999998" y2="417.4" stroke="#262626" stroke-width="1.0"/>
<rect x="251.60" y="449.80" width="11.10" height="11.30" fill="#6ca643"/>
<line x1="257.15" y1="448.6" x2="257.15" y2="449.8" stroke="#262626" stroke-width="1.0"/>
<line x1="254.39999999999998" y1="448.6" x2="259.9" y2="448.6" stroke="#262626" stroke-width="1.0"/>
<line x1="232.00" y1="461.1" x2="232.00" y2="463.6" stroke="#1a1a1a" stroke-width="1.0"/>
<text transform="translate(232.30,476.0) scale(0.8333,1)" font-size="9.60" text-anchor="middle" font-style="italic" fill="#231f20">Bcl2</text>
<line x1="206.6" y1="358.8" x2="240.6" y2="358.8" stroke="#262626" stroke-width="1.0"/>
<circle cx="221.80" cy="354.10" r="1.0" fill="#383838"/>
<line x1="240.6" y1="382.4" x2="258.4" y2="382.4" stroke="#262626" stroke-width="1.0"/>
<circle cx="246.15" cy="378.40" r="1.0" fill="#383838"/>
<circle cx="249.50" cy="378.40" r="1.0" fill="#383838"/>
<circle cx="252.85" cy="378.40" r="1.0" fill="#383838"/>
<rect x="278.80" y="386.10" width="11.10" height="75.00" fill="#512761"/>
<line x1="284.35" y1="357.5" x2="284.35" y2="386.1" stroke="#262626" stroke-width="1.0"/>
<line x1="281.6" y1="357.5" x2="287.1" y2="357.5" stroke="#262626" stroke-width="1.0"/>
<rect x="295.25" y="411.30" width="11.10" height="49.80" fill="#a3002b"/>
<line x1="300.8" y1="400.0" x2="300.8" y2="411.3" stroke="#262626" stroke-width="1.0"/>
<line x1="298.05" y1="400.0" x2="303.55" y2="400.0" stroke="#262626" stroke-width="1.0"/>
<rect x="311.80" y="442.10" width="11.10" height="19.00" fill="#2e4c7c"/>
<line x1="317.35" y1="436.4" x2="317.35" y2="442.1" stroke="#262626" stroke-width="1.0"/>
<line x1="314.6" y1="436.4" x2="320.1" y2="436.4" stroke="#262626" stroke-width="1.0"/>
<rect x="328.30" y="450.80" width="11.10" height="10.30" fill="#6ca643"/>
<line x1="333.85" y1="450.2" x2="333.85" y2="450.8" stroke="#262626" stroke-width="1.0"/>
<line x1="331.1" y1="450.2" x2="336.6" y2="450.2" stroke="#262626" stroke-width="1.0"/>
<line x1="308.70" y1="461.1" x2="308.70" y2="463.6" stroke="#1a1a1a" stroke-width="1.0"/>
<text transform="translate(309.00,476.0) scale(0.8333,1)" font-size="9.60" text-anchor="middle" font-style="italic" fill="#231f20">Meis1</text>
<line x1="283.2" y1="353.1" x2="319.2" y2="353.1" stroke="#262626" stroke-width="1.0"/>
<circle cx="301.00" cy="349.50" r="1.0" fill="#383838"/>
<line x1="318.0" y1="389.9" x2="335.8" y2="389.9" stroke="#262626" stroke-width="1.0"/>
<circle cx="327.70" cy="387.10" r="1.0" fill="#383838"/>
<rect x="355.50" y="386.10" width="11.10" height="75.00" fill="#512761"/>
<line x1="361.05" y1="380.4" x2="361.05" y2="386.1" stroke="#262626" stroke-width="1.0"/>
<line x1="358.3" y1="380.4" x2="363.8" y2="380.4" stroke="#262626" stroke-width="1.0"/>
<rect x="371.95" y="395.60" width="11.10" height="65.50" fill="#a3002b"/>
<line x1="377.5" y1="386.5" x2="377.5" y2="395.6" stroke="#262626" stroke-width="1.0"/>
<line x1="374.75" y1="386.5" x2="380.25" y2="386.5" stroke="#262626" stroke-width="1.0"/>
<rect x="388.50" y="439.50" width="11.10" height="21.60" fill="#2e4c7c"/>
<line x1="394.05" y1="433.4" x2="394.05" y2="439.5" stroke="#262626" stroke-width="1.0"/>
<line x1="391.3" y1="433.4" x2="396.8" y2="433.4" stroke="#262626" stroke-width="1.0"/>
<rect x="405.00" y="455.80" width="11.10" height="5.30" fill="#6ca643"/>
<line x1="410.55" y1="455.2" x2="410.55" y2="455.8" stroke="#262626" stroke-width="1.0"/>
<line x1="407.8" y1="455.2" x2="413.3" y2="455.2" stroke="#262626" stroke-width="1.0"/>
<line x1="385.40" y1="461.1" x2="385.40" y2="463.6" stroke="#1a1a1a" stroke-width="1.0"/>
<text transform="translate(385.70,476.0) scale(0.8333,1)" font-size="9.60" text-anchor="middle" font-style="italic" fill="#231f20">Hoxa9</text>
<line x1="360.6" y1="370.9" x2="393.1" y2="370.9" stroke="#262626" stroke-width="1.0"/>
<circle cx="374.45" cy="366.80" r="1.0" fill="#383838"/>
<circle cx="377.80" cy="366.80" r="1.0" fill="#383838"/>
<circle cx="381.15" cy="366.80" r="1.0" fill="#383838"/>
<line x1="394.1" y1="383.0" x2="411.7" y2="383.0" stroke="#262626" stroke-width="1.0"/>
<circle cx="401.32" cy="379.00" r="1.0" fill="#383838"/>
<circle cx="404.68" cy="379.00" r="1.0" fill="#383838"/>
<text transform="translate(45.8,508.5) scale(0.8052,1)" font-size="9.00" fill="#231f20">BRD4 ChIP-qPCR</text>
<line x1="40.6" y1="503.1" x2="40.6" y2="596.0" stroke="#1a1a1a" stroke-width="1.2"/>
<line x1="37.1" y1="595.5" x2="424.8" y2="595.5" stroke="#1a1a1a" stroke-width="1.2"/>
<line x1="37.1" y1="505.50" x2="40.6" y2="505.50" stroke="#1a1a1a" stroke-width="1.0"/>
<text transform="translate(34.1,508.00) scale(0.8333,1)" font-size="9.60" text-anchor="end" fill="#231f20">2.5</text>
<line x1="37.1" y1="523.50" x2="40.6" y2="523.50" stroke="#1a1a1a" stroke-width="1.0"/>
<text transform="translate(34.1,526.00) scale(0.8333,1)" font-size="9.60" text-anchor="end" fill="#231f20">2.0</text>
<line x1="37.1" y1="541.50" x2="40.6" y2="541.50" stroke="#1a1a1a" stroke-width="1.0"/>
<text transform="translate(34.1,544.00) scale(0.8333,1)" font-size="9.60" text-anchor="end" fill="#231f20">1.5</text>
<line x1="37.1" y1="559.50" x2="40.6" y2="559.50" stroke="#1a1a1a" stroke-width="1.0"/>
<text transform="translate(34.1,562.00) scale(0.8333,1)" font-size="9.60" text-anchor="end" fill="#231f20">1.0</text>
<line x1="37.1" y1="577.50" x2="40.6" y2="577.50" stroke="#1a1a1a" stroke-width="1.0"/>
<text transform="translate(34.1,580.00) scale(0.8333,1)" font-size="9.60" text-anchor="end" fill="#231f20">0.5</text>
<line x1="37.1" y1="595.50" x2="40.6" y2="595.50" stroke="#1a1a1a" stroke-width="1.0"/>
<text transform="translate(34.1,598.00) scale(0.8333,1)" font-size="9.60" text-anchor="end" fill="#231f20">0</text>
<text transform="translate(17.8,549.3) rotate(-90) scale(0.8790,1)" x="0" y="0" font-size="8.8" text-anchor="middle" fill="#231f20" class="vl">% of input</text>
<rect x="48.70" y="560.80" width="11.10" height="34.70" fill="#512761"/>
<line x1="54.25" y1="556.2" x2="54.25" y2="560.8" stroke="#262626" stroke-width="1.0"/>
<line x1="51.5" y1="556.2" x2="57.0" y2="556.2" stroke="#262626" stroke-width="1.0"/>
<rect x="65.15" y="567.50" width="11.10" height="28.00" fill="#a3002b"/>
<line x1="70.7" y1="559.4" x2="70.7" y2="567.5" stroke="#262626" stroke-width="1.0"/>
<line x1="67.95" y1="559.4" x2="73.45" y2="559.4" stroke="#262626" stroke-width="1.0"/>
<rect x="81.70" y="582.90" width="11.10" height="12.60" fill="#2e4c7c"/>
<line x1="87.25" y1="580.2" x2="87.25" y2="582.9" stroke="#262626" stroke-width="1.0"/>
<line x1="84.5" y1="580.2" x2="90.0" y2="580.2" stroke="#262626" stroke-width="1.0"/>
<rect x="98.20" y="590.20" width="11.10" height="5.30" fill="#6ca643"/>
<line x1="103.75" y1="588.7" x2="103.75" y2="590.2" stroke="#262626" stroke-width="1.0"/>
<line x1="101.0" y1="588.7" x2="106.5" y2="588.7" stroke="#262626" stroke-width="1.0"/>
<line x1="78.60" y1="595.5" x2="78.60" y2="598.3" stroke="#1a1a1a" stroke-width="1.0"/>
<text transform="translate(78.90,610.5) scale(0.8333,1)" font-size="9.60" text-anchor="middle" font-style="italic" fill="#231f20">Meis1</text>
<line x1="54.8" y1="541.7" x2="88.7" y2="541.7" stroke="#262626" stroke-width="1.0"/>
<circle cx="69.53" cy="536.70" r="1.0" fill="#383838"/>
<circle cx="72.88" cy="536.70" r="1.0" fill="#383838"/>
<line x1="87.7" y1="568.1" x2="105.4" y2="568.1" stroke="#262626" stroke-width="1.0"/>
<circle cx="95.03" cy="563.70" r="1.0" fill="#383838"/>
<circle cx="98.38" cy="563.70" r="1.0" fill="#383838"/>
<rect x="125.40" y="559.40" width="11.10" height="36.10" fill="#512761"/>
<line x1="130.95" y1="556.2" x2="130.95" y2="559.4" stroke="#262626" stroke-width="1.0"/>
<line x1="128.2" y1="556.2" x2="133.7" y2="556.2" stroke="#262626" stroke-width="1.0"/>
<rect x="141.85" y="565.20" width="11.10" height="30.30" fill="#a3002b"/>
<line x1="147.39999999999998" y1="550.2" x2="147.39999999999998" y2="565.2" stroke="#262626" stroke-width="1.0"/>
<line x1="144.64999999999998" y1="550.2" x2="150.14999999999998" y2="550.2" stroke="#262626" stroke-width="1.0"/>
<rect x="158.40" y="581.50" width="11.10" height="14.00" fill="#2e4c7c"/>
<line x1="163.95" y1="578.3" x2="163.95" y2="581.5" stroke="#262626" stroke-width="1.0"/>
<line x1="161.2" y1="578.3" x2="166.7" y2="578.3" stroke="#262626" stroke-width="1.0"/>
<rect x="174.90" y="588.30" width="11.10" height="7.20" fill="#6ca643"/>
<line x1="180.45" y1="587.9" x2="180.45" y2="588.3" stroke="#262626" stroke-width="1.0"/>
<line x1="177.7" y1="587.9" x2="183.2" y2="587.9" stroke="#262626" stroke-width="1.0"/>
<line x1="155.30" y1="595.5" x2="155.30" y2="598.3" stroke="#1a1a1a" stroke-width="1.0"/>
<text transform="translate(155.60,610.5) scale(0.8333,1)" font-size="9.60" text-anchor="middle" font-style="italic" fill="#231f20">Hoxa9</text>
<line x1="129.2" y1="542.1" x2="163.3" y2="542.1" stroke="#262626" stroke-width="1.0"/>
<circle cx="142.65" cy="537.90" r="1.0" fill="#383838"/>
<circle cx="146.00" cy="537.90" r="1.0" fill="#383838"/>
<circle cx="149.35" cy="537.90" r="1.0" fill="#383838"/>
<line x1="162.3" y1="568.1" x2="179.6" y2="568.1" stroke="#262626" stroke-width="1.0"/>
<circle cx="171.20" cy="564.20" r="1.0" fill="#383838"/>
<rect x="202.30" y="541.90" width="11.10" height="53.60" fill="#512761"/>
<line x1="207.85000000000002" y1="538.5" x2="207.85000000000002" y2="541.9" stroke="#262626" stroke-width="1.0"/>
<line x1="205.10000000000002" y1="538.5" x2="210.60000000000002" y2="538.5" stroke="#262626" stroke-width="1.0"/>
<rect x="218.75" y="548.70" width="11.10" height="46.80" fill="#a3002b"/>
<line x1="224.3" y1="546.2" x2="224.3" y2="548.7" stroke="#262626" stroke-width="1.0"/>
<line x1="221.55" y1="546.2" x2="227.05" y2="546.2" stroke="#262626" stroke-width="1.0"/>
<rect x="235.30" y="581.70" width="11.10" height="13.80" fill="#2e4c7c"/>
<line x1="240.85000000000002" y1="577.5" x2="240.85000000000002" y2="581.7" stroke="#262626" stroke-width="1.0"/>
<line x1="238.10000000000002" y1="577.5" x2="243.60000000000002" y2="577.5" stroke="#262626" stroke-width="1.0"/>
<rect x="251.80" y="586.20" width="11.10" height="9.30" fill="#6ca643"/>
<line x1="257.35" y1="582.3" x2="257.35" y2="586.2" stroke="#262626" stroke-width="1.0"/>
<line x1="254.60000000000002" y1="582.3" x2="260.1" y2="582.3" stroke="#262626" stroke-width="1.0"/>
<line x1="232.20" y1="595.5" x2="232.20" y2="598.3" stroke="#1a1a1a" stroke-width="1.0"/>
<text transform="translate(232.50,610.5) scale(0.8333,1)" font-size="9.60" text-anchor="middle" font-style="italic" fill="#231f20">MycE2</text>
<line x1="206.9" y1="532.3" x2="240.6" y2="532.3" stroke="#262626" stroke-width="1.0"/>
<circle cx="221.62" cy="528.50" r="1.0" fill="#383838"/>
<circle cx="224.97" cy="528.50" r="1.0" fill="#383838"/>
<line x1="240.8" y1="567.3" x2="258.5" y2="567.3" stroke="#262626" stroke-width="1.0"/>
<text transform="translate(249.40,564.42) scale(1.0000,1)" font-size="7.40" text-anchor="middle" fill="#231f20">ns</text>
<rect x="278.70" y="525.00" width="11.10" height="70.50" fill="#512761"/>
<line x1="284.25" y1="517.7" x2="284.25" y2="525.0" stroke="#262626" stroke-width="1.0"/>
<line x1="281.5" y1="517.7" x2="287.0" y2="517.7" stroke="#262626" stroke-width="1.0"/>
<rect x="295.15" y="537.90" width="11.10" height="57.60" fill="#a3002b"/>
<line x1="300.7" y1="530.4" x2="300.7" y2="537.9" stroke="#262626" stroke-width="1.0"/>
<line x1="297.95" y1="530.4" x2="303.45" y2="530.4" stroke="#262626" stroke-width="1.0"/>
<rect x="311.70" y="576.90" width="11.10" height="18.60" fill="#2e4c7c"/>
<line x1="317.25" y1="571.2" x2="317.25" y2="576.9" stroke="#262626" stroke-width="1.0"/>
<line x1="314.5" y1="571.2" x2="320.0" y2="571.2" stroke="#262626" stroke-width="1.0"/>
<rect x="328.20" y="589.80" width="11.10" height="5.70" fill="#6ca643"/>
<line x1="333.75" y1="585.6" x2="333.75" y2="589.8" stroke="#262626" stroke-width="1.0"/>
<line x1="331.0" y1="585.6" x2="336.5" y2="585.6" stroke="#262626" stroke-width="1.0"/>
<line x1="308.60" y1="595.5" x2="308.60" y2="598.3" stroke="#1a1a1a" stroke-width="1.0"/>
<text transform="translate(308.90,610.5) scale(0.8333,1)" font-size="9.60" text-anchor="middle" font-style="italic" fill="#231f20">MycE3</text>
<line x1="285.4" y1="513.1" x2="319.0" y2="513.1" stroke="#262626" stroke-width="1.0"/>
<circle cx="298.95" cy="508.10" r="1.0" fill="#383838"/>
<circle cx="302.30" cy="508.10" r="1.0" fill="#383838"/>
<circle cx="305.65" cy="508.10" r="1.0" fill="#383838"/>
<line x1="318.1" y1="556.7" x2="335.8" y2="556.7" stroke="#262626" stroke-width="1.0"/>
<circle cx="326.70" cy="552.30" r="1.0" fill="#383838"/>
<rect x="356.90" y="551.00" width="11.10" height="44.50" fill="#512761"/>
<line x1="362.45" y1="549.4" x2="362.45" y2="551.0" stroke="#262626" stroke-width="1.0"/>
<line x1="359.7" y1="549.4" x2="365.2" y2="549.4" stroke="#262626" stroke-width="1.0"/>
<rect x="373.35" y="561.00" width="11.10" height="34.50" fill="#a3002b"/>
<line x1="378.9" y1="551.0" x2="378.9" y2="561.0" stroke="#262626" stroke-width="1.0"/>
<line x1="376.15" y1="551.0" x2="381.65" y2="551.0" stroke="#262626" stroke-width="1.0"/>
<rect x="389.90" y="573.70" width="11.10" height="21.80" fill="#2e4c7c"/>
<line x1="395.45" y1="572.1" x2="395.45" y2="573.7" stroke="#262626" stroke-width="1.0"/>
<line x1="392.7" y1="572.1" x2="398.2" y2="572.1" stroke="#262626" stroke-width="1.0"/>
<rect x="406.40" y="591.70" width="11.10" height="3.80" fill="#6ca643"/>
<line x1="411.95" y1="590.4" x2="411.95" y2="591.7" stroke="#262626" stroke-width="1.0"/>
<line x1="409.2" y1="590.4" x2="414.7" y2="590.4" stroke="#262626" stroke-width="1.0"/>
<line x1="386.80" y1="595.5" x2="386.80" y2="598.3" stroke="#1a1a1a" stroke-width="1.0"/>
<text transform="translate(387.10,610.5) scale(0.8333,1)" font-size="9.60" text-anchor="middle" font-style="italic" fill="#231f20">Meis1E</text>
<line x1="363.3" y1="539.4" x2="396.5" y2="539.4" stroke="#262626" stroke-width="1.0"/>
<circle cx="377.52" cy="534.60" r="1.0" fill="#383838"/>
<circle cx="380.88" cy="534.60" r="1.0" fill="#383838"/>
<line x1="396.0" y1="565.4" x2="413.3" y2="565.4" stroke="#262626" stroke-width="1.0"/>
<circle cx="402.93" cy="561.50" r="1.0" fill="#383838"/>
<circle cx="406.28" cy="561.50" r="1.0" fill="#383838"/>
</svg></body></html>
